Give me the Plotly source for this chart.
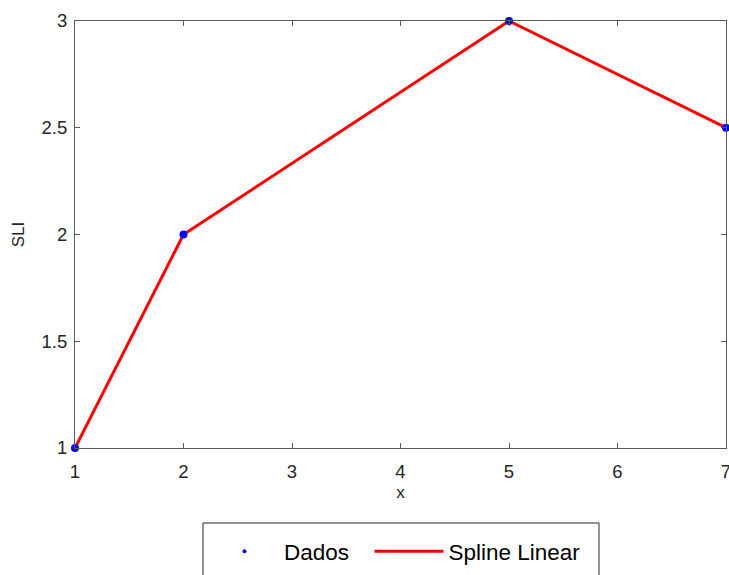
import plotly.graph_objects as go

x_data = [1, 2, 5, 7]
y_data = [1, 2, 3, 2.5]
x_ticks = [1, 2, 3, 4, 5, 6, 7]
y_ticks = [1, 1.5, 2, 2.5, 3]
y_tick_text = ["1", "1.5", "2", "2.5", "3"]

W, H = 729, 575
FONT = "Liberation Sans, Arial, sans-serif"
TXT = "#262626"
AX = "#5a5a5a"

fig = go.Figure()
# spline linear line
fig.add_trace(go.Scatter(x=x_data, y=y_data, mode="lines", name="Spline Linear",
                         line=dict(color="#ff0000", width=3), cliponaxis=False,
                         showlegend=False))
# data points
fig.add_trace(go.Scatter(x=x_data, y=y_data, mode="markers", name="Dados",
                         marker=dict(color="#0000ff", size=8), cliponaxis=False,
                         showlegend=False))
# legend entries
fig.add_trace(go.Scatter(x=[None], y=[None], mode="markers", name="Dados",
                         marker=dict(color="#0000ff", size=4), legend="legend"))
fig.add_trace(go.Scatter(x=[None], y=[None], mode="lines", name="Spline Linear",
                         line=dict(color="#ff0000", width=3), legend="legend2"))

leg_common = dict(orientation="h", xref="container", yref="container",
                  xanchor="left", y=1 - 530 / H, yanchor="top",
                  font=dict(size=22.5, color="#000000"), itemwidth=69,
                  bgcolor="rgba(0,0,0,0)", borderwidth=0)

fig.update_layout(
    width=W, height=H,
    margin=dict(l=75, r=3, t=21, b=127),
    paper_bgcolor="white", plot_bgcolor="white",
    font=dict(family=FONT, color=TXT, size=17),
    xaxis=dict(range=[1, 7], tickvals=x_ticks, ticks="inside", ticklen=5,
               tickcolor=AX, showline=True, linecolor=AX, linewidth=1,
               mirror="ticks", showgrid=False, zeroline=False, automargin=False,
               ticklabeloverflow="allow", ticklabelstandoff=7,
               tickfont=dict(size=18.5), title=dict(text="x", font=dict(size=17), standoff=4)),
    yaxis=dict(range=[1, 3], tickvals=y_ticks, ticktext=y_tick_text, ticks="inside", ticklen=5,
               tickcolor=AX, showline=True, linecolor=AX, linewidth=1,
               mirror="ticks", showgrid=False, zeroline=False, automargin=False,
               ticklabeloverflow="allow", ticklabelstandoff=3,
               tickfont=dict(size=18.5), title=dict(text="SLI", font=dict(size=17), standoff=12)),
    legend=dict(x=205 / W, **leg_common),
    legend2=dict(x=369.5 / W, **leg_common),
    shapes=[dict(type="rect", xref="paper", yref="paper",
                 x0=(203 - 75) / (W - 78), x1=(599 - 75) / (W - 78),
                 y0=-(600 - 448) / (448 - 21), y1=-(523 - 448) / (448 - 21),
                 line=dict(color="#262626", width=1), fillcolor="rgba(0,0,0,0)")],
)

fig.write_html("out.html")
